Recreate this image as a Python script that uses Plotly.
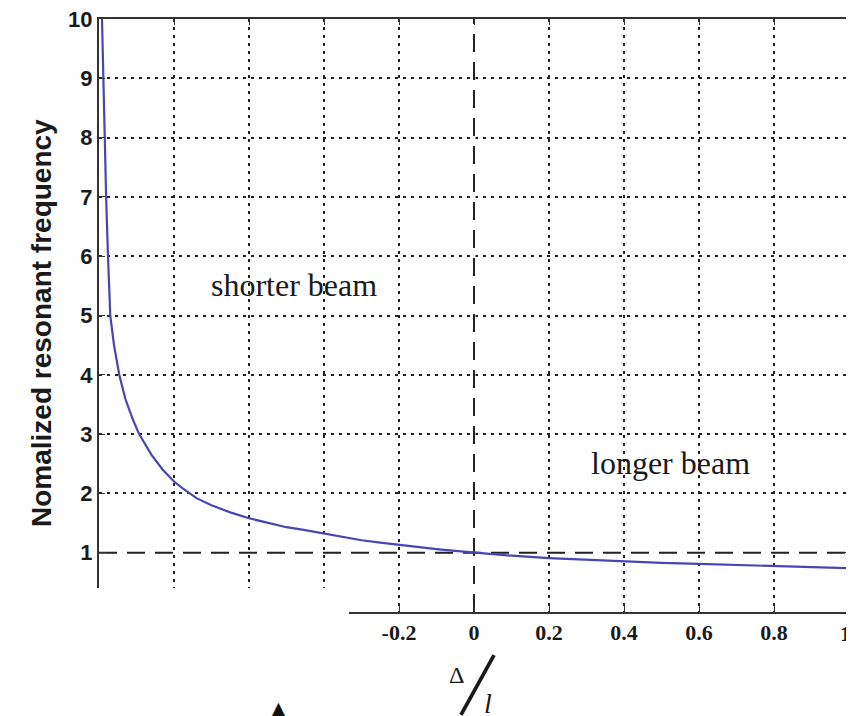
import plotly.graph_objects as go

# Curve values
delta_l = [-0.992, -0.987, -0.981, -0.976, -0.970, -0.960, -0.946, -0.93, -0.91, -0.893,
           -0.86, -0.83, -0.80, -0.776, -0.74, -0.70, -0.65, -0.60, -0.55, -0.50,
           -0.45, -0.40, -0.35, -0.30, -0.25, -0.20, -0.15, -0.10, -0.05, 0.0,
           0.1, 0.2, 0.3, 0.4, 0.5, 0.6, 0.7, 0.8, 0.9, 1.0]
norm_freq = [10.0, 8.5, 7.0, 6.0, 5.0, 4.5, 4.0, 3.6, 3.25, 3.0,
             2.65, 2.4, 2.2, 2.08, 1.92, 1.80, 1.68, 1.58, 1.50, 1.43,
             1.38, 1.32, 1.26, 1.21, 1.17, 1.13, 1.09, 1.06, 1.03, 1.0,
             0.95, 0.91, 0.88, 0.86, 0.83, 0.81, 0.79, 0.77, 0.75, 0.74]

x_ticks = [-1.0, -0.8, -0.6, -0.4, -0.2, 0.0, 0.2, 0.4, 0.6, 0.8, 1.0]
x_tick_labels = ["", "", "", "", "-0.2", "0", "0.2", "0.4", "0.6", "0.8", "1"]
y_ticks = [0, 1, 2, 3, 4, 5, 6, 7, 8, 9, 10]
y_tick_labels = ["", "1", "2", "3", "4", "5", "6", "7", "8", "9", "10"]

ref_x = 0.0   # dashed vertical reference
ref_y = 1.0   # dashed horizontal reference

fig = go.Figure()
fig.add_trace(go.Scatter(x=delta_l, y=norm_freq, mode="lines",
                         line=dict(color="#4846b2", width=2.2), showlegend=False))

# reference lines: white underlay hides the dotted grid, then the dashed line
for dash, col, w in [("solid", "white", 3), ("18px,10px", "#222222", 2)]:
    fig.add_shape(type="line", x0=ref_x, x1=ref_x, y0=0, y1=10, xref="x", yref="y",
                  line=dict(color=col, width=w, dash=dash), layer="between")
    fig.add_shape(type="line", x0=-1, x1=1, y0=ref_y, y1=ref_y, xref="x", yref="y",
                  line=dict(color=col, width=w, dash=dash), layer="between")

# white patch covering the lower-left corner (as in the original)
fig.add_shape(type="rect", xref="paper", yref="paper",
              x0=-0.14, x1=0.3333, y0=-0.025, y1=0.0405,
              fillcolor="white", line=dict(width=0), layer="above")

serif = "Liberation Serif, Times New Roman, serif"
sans = "Liberation Sans, Arial, sans-serif"

def px(xp, yp):
    return (xp - 98) / 750, (611 - yp) / 593

def paper_text(xp, yp, text, font, **kw):
    ax, ay = px(xp, yp)
    fig.add_annotation(x=ax, y=ay, xref="paper", yref="paper", text=text,
                       showarrow=False, xanchor=kw.pop("xanchor", "center"),
                       yanchor=kw.pop("yanchor", "middle"), font=font, **kw)

fig.add_annotation(x=-0.48, y=5.52, xref="x", yref="y", text="shorter beam",
                   showarrow=False, font=dict(family=serif, size=32, color="#1a1a1a"))
fig.add_annotation(x=0.525, y=2.52, xref="x", yref="y", text="longer beam",
                   showarrow=False, font=dict(family=serif, size=32, color="#1a1a1a"))

paper_text(40, 322, "<b>Nomalized resonant frequency</b>",
           dict(family=sans, size=28, color="#1a1a1a"), textangle=-90)

# last x tick label sits right at the edge of the picture
paper_text(844, 632, "<b>" + x_tick_labels[-1] + "</b>",
           dict(family=serif, size=22, color="#1a1a1a"))

# x axis title  Δ / l
paper_text(455, 674, "Δ", dict(family=serif, size=24, color="#1a1a1a"))
paper_text(480.5, 677, "|", dict(family=serif, size=75, color="#1a1a1a"), textangle=29)
paper_text(487, 702, "<i>l</i>", dict(family=serif, size=28, color="#1a1a1a"))

paper_text(277, 708, "▲", dict(family="DejaVu Sans", size=22, color="#111111"))

fig.update_xaxes(range=[-1, 1], tickvals=x_ticks, ticktext=x_tick_labels[:-1] + [""],
                 automargin=False, ticklabeloverflow="allow",
                 showgrid=True, gridcolor="#222222", gridwidth=1.6, griddash="3px,5px",
                 zeroline=False, showline=True, linecolor="#333333", linewidth=2,
                 mirror="ticks", ticks="inside", ticklen=6, tickcolor="#333333",
                 tickfont=dict(family=serif, size=22, color="#1a1a1a", weight="bold"))
fig.update_yaxes(range=[0, 10], tickvals=y_ticks, ticktext=y_tick_labels, automargin=False,
                 ticklabeloverflow="allow",
                 showgrid=True, gridcolor="#222222", gridwidth=1.6, griddash="3px,5px",
                 zeroline=False, showline=True, linecolor="#333333", linewidth=2,
                 mirror="ticks", ticks="inside", ticklen=6, tickcolor="#333333",
                 tickfont=dict(family=sans, size=22, color="#1a1a1a", weight="bold"))

# the page adds ~7px body margin, so the figure is slightly smaller than the window
fig.update_layout(width=847, height=709, margin=dict(l=91, r=6, t=11, b=105),
                  plot_bgcolor="white", paper_bgcolor="white", showlegend=False)

fig.write_html("out.html")
